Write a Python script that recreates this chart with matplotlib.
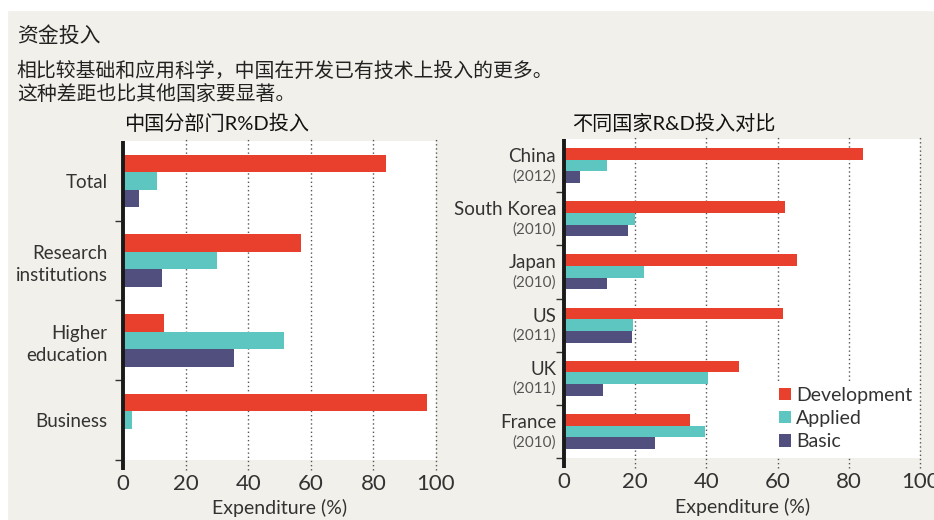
import numpy as np
import matplotlib.pyplot as plt
import matplotlib.transforms as mtrans

plt.rcParams['font.family'] = ['Lato', 'Noto Sans CJK SC', 'DejaVu Sans']

# data (% of expenditure)
sectors = ['Total', 'Research\ninstitutions', 'Higher\neducation', 'Business']
sec_dev = [84, 57, 13, 97]
sec_app = [11, 30, 51.5, 3]
sec_basic = [5, 12.5, 35.5, 0]

countries = ['China', 'South Korea', 'Japan', 'US', 'UK', 'France']
years = ['(2012)', '(2010)', '(2010)', '(2011)', '(2011)', '(2010)']
cty_dev = [84, 62, 65.5, 61.5, 49, 35.5]
cty_app = [12, 20, 22.5, 19.5, 40.5, 39.5]
cty_basic = [4.5, 18, 12, 19, 11, 25.5]

series = ['Development', 'Applied', 'Basic']
colors = ['#e8402d', '#5ec6c1', '#504f7e']
bg = '#f2f0ea'
txt = '#333333'

fig = plt.figure(figsize=(9.34, 5.2), dpi=100)
fig.patch.set_facecolor(bg)
# white strip at top-left like the screenshot edge
fig.patches.append(plt.Rectangle((0, 0.98), 1, 0.02, transform=fig.transFigure,
                                 color='white', zorder=0))
fig.patches.append(plt.Rectangle((0, 0), 0.008, 1, transform=fig.transFigure,
                                 color='white', zorder=0))

fig.text(0.018, 0.932, '资金投入', fontsize=15, color='#222222', va='center')
fig.text(0.018, 0.865, '相比较基础和应用科学，中国在开发已有技术上投入的更多。',
         fontsize=14.3, color='#222222', va='center')
fig.text(0.018, 0.818, '这种差距也比其他国家要显著。', fontsize=14.3,
         color='#222222', va='center')
fig.text(0.133, 0.763, '中国分部门R%D投入', fontsize=14.5, color='#111111', va='center')
fig.text(0.613, 0.763, '不同国家R&D投入对比', fontsize=14.5, color='#111111', va='center')

h = 0.22


def setup(ax, n):
    ax.set_facecolor('white')
    ax.set_xlim(0, 100)
    ax.set_ylim(n - 0.5, -0.5)
    for s in ax.spines.values():
        s.set_visible(False)
    tr = mtrans.blended_transform_factory(ax.transData, ax.transAxes)
    for x in [20, 40, 60, 80, 100]:
        ax.plot([x, x], [-0.03, 1.01], transform=tr, color='#555555', lw=1,
                ls=(0, (1, 2)), clip_on=False, zorder=1)
    ax.plot([0, 0], [-0.03, 1.0], transform=ax.transAxes, color='#1a1a1a',
            lw=2.8, clip_on=False, zorder=5, solid_capstyle='butt')
    ax.set_xticks([0, 20, 40, 60, 80, 100])
    ax.tick_params(axis='x', length=0, pad=10, labelsize=16, labelcolor=txt)
    ax.set_yticks(list(np.arange(n - 1) + 0.5) + [n - 0.5], minor=True)
    ax.tick_params(axis='y', which='minor', length=6, width=1, color='#333333')
    ax.tick_params(axis='y', which='major', length=0)
    ax.set_xlabel('Expenditure (%)', fontsize=14, color=txt, labelpad=4)


def bars(ax, dev, app, basic):
    y = np.arange(len(dev))
    for off, vals, c, lab in zip([-h, 0, h], [dev, app, basic], colors, series):
        ax.barh(y + off, vals, height=h, color=c, label=lab, zorder=3)


ax1 = fig.add_axes([0.1317, 0.1154, 0.3351, 0.6135])
setup(ax1, len(sectors))
bars(ax1, sec_dev, sec_app, sec_basic)
ax1.set_yticks(np.arange(len(sectors)))
ax1.set_yticklabels(sectors, fontsize=13.5, color=txt, linespacing=1.35)
ax1.tick_params(axis='y', which='major', pad=11)

ax2 = fig.add_axes([0.6039, 0.1192, 0.3812, 0.6135])
setup(ax2, len(countries))
bars(ax2, cty_dev, cty_app, cty_basic)
ax2.set_yticks([])
ax2.set_yticks(list(np.arange(len(countries) - 1) + 0.5) + [len(countries) - 0.5], minor=True)
tr2 = mtrans.blended_transform_factory(ax2.transAxes, ax2.transData)
for i, (c, yr) in enumerate(zip(countries, years)):
    ax2.text(-0.022, i - 0.17, c, transform=tr2, ha='right', va='center',
             fontsize=13.5, color=txt)
    ax2.text(-0.022, i + 0.2, yr, transform=tr2, ha='right', va='center',
             fontsize=11, color='#555555')

leg = ax2.legend(loc='lower right', bbox_to_anchor=(0.995, 0.006), frameon=True,
                 fontsize=14, handlelength=0.6, handleheight=0.6,
                 handletextpad=0.3, labelspacing=0.32, borderpad=0.3,
                 borderaxespad=0)
leg.get_frame().set_facecolor('white')
leg.get_frame().set_edgecolor('none')
leg.get_frame().set_alpha(1)
leg.set_zorder(6)
for t in leg.get_texts():
    t.set_color(txt)

fig.savefig('out.png', dpi=100, facecolor=bg)
